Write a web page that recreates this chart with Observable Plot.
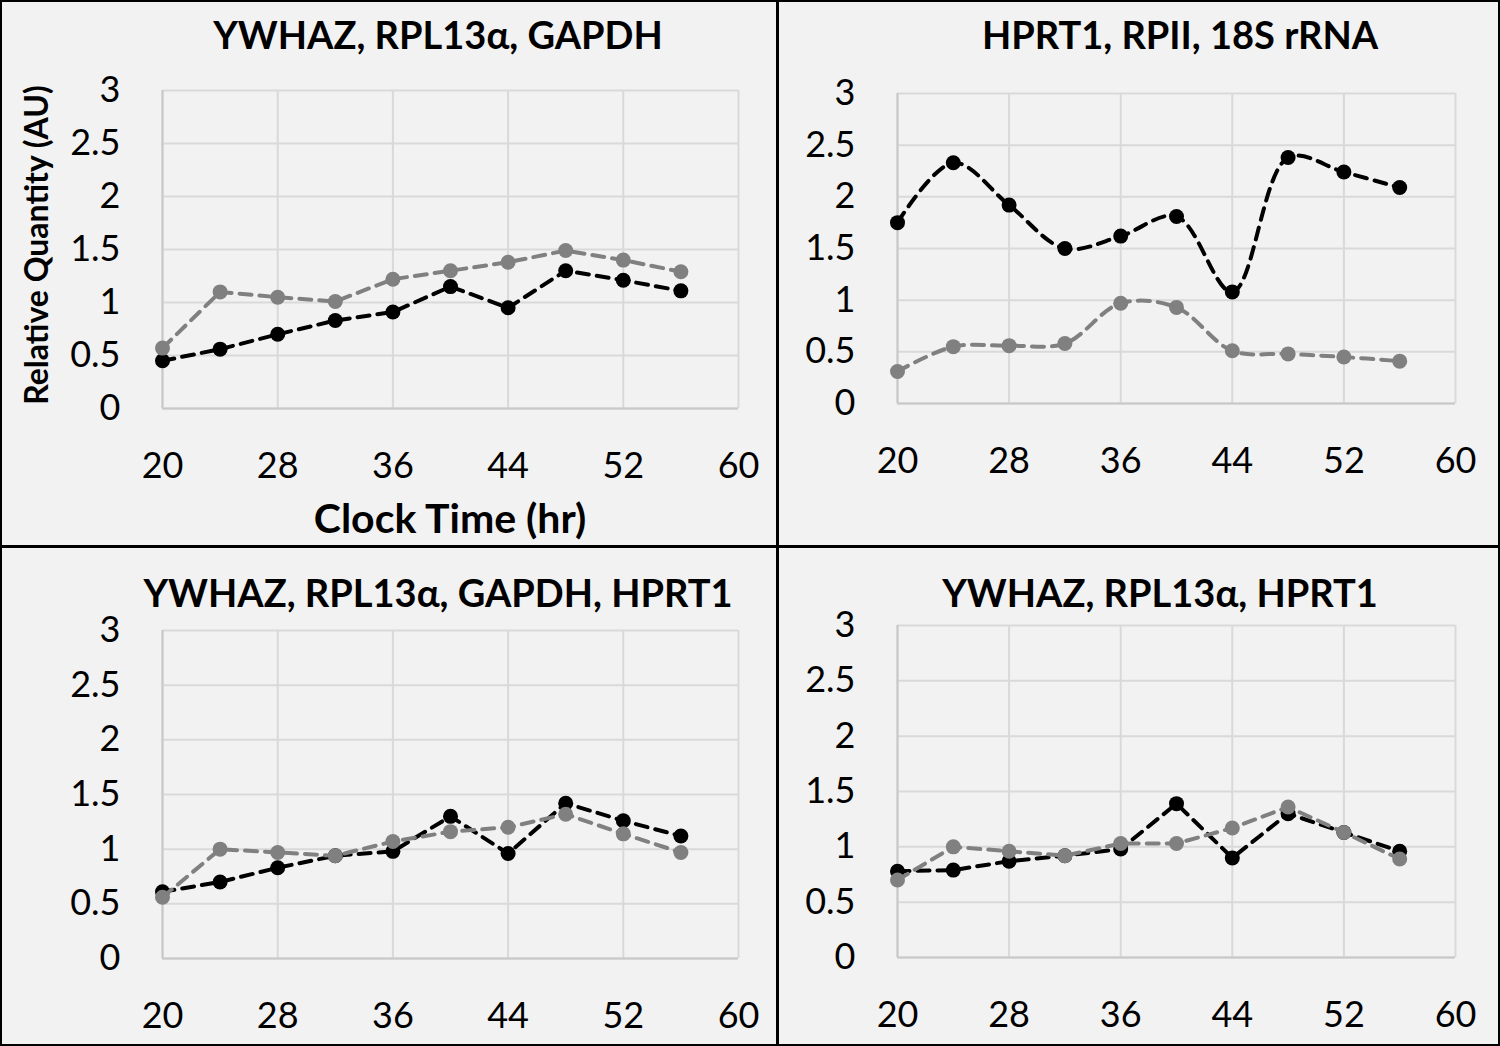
<!DOCTYPE html>
<html><head><meta charset="utf-8">
<script src="https://cdn.jsdelivr.net/npm/d3@7"></script>
<script src="https://cdn.jsdelivr.net/npm/@observablehq/plot@0.6"></script>
<style>
body{margin:0;background:#f2f2f2;}
#wrap{position:relative;width:1500px;height:1046px;background:#f2f2f2;font-family:Lato, sans-serif;overflow:hidden}
.border{position:absolute;left:0;top:0;right:0;bottom:0;border:2px solid #000;pointer-events:none}
.vline{position:absolute;left:776px;top:0;width:3px;height:1046px;background:#000}
.hline{position:absolute;top:545px;left:0;height:3px;width:1500px;background:#000}
.title{position:absolute;font-weight:bold;font-size:38px;transform:translate(-50%,-50%);white-space:nowrap;color:#000;line-height:1}
.plot{position:absolute}
.ylab{position:absolute;font-weight:bold;font-size:32px;white-space:nowrap;transform:translate(-50%,-50%) rotate(-90deg);line-height:1}
.xlab{position:absolute;font-weight:bold;font-size:41px;white-space:nowrap;transform:translate(-50%,-50%);line-height:1}
</style></head>
<body><div id="wrap"></div>
<script>
const hours = [20,24,28,32,36,40,44,48,52,56];
const xTicks = [20,28,36,44,52,60];
const yTicks = [0,0.5,1,1.5,2,2.5,3];
const titles = ["YWHAZ, RPL13\u03b1, GAPDH","HPRT1, RPII, 18S rRNA","YWHAZ, RPL13\u03b1, GAPDH, HPRT1","YWHAZ, RPL13\u03b1, HPRT1"];
const yLabel = "Relative Quantity (AU)";
const xLabel = "Clock Time (hr)";

const p1Black = [0.45,0.56,0.70,0.83,0.91,1.15,0.95,1.30,1.21,1.11];
const p1Gray  = [0.57,1.10,1.05,1.01,1.22,1.30,1.38,1.49,1.40,1.29];
const p2Black = [1.75,2.33,1.92,1.50,1.62,1.81,1.08,2.38,2.24,2.09];
const p2Gray  = [0.31,0.55,0.56,0.58,0.97,0.93,0.51,0.48,0.45,0.41];
const p3Black = [0.61,0.70,0.83,0.94,0.98,1.30,0.96,1.42,1.26,1.12];
const p3Gray  = [0.56,1.00,0.97,0.94,1.07,1.16,1.20,1.32,1.14,0.97];
const p4Black = [0.78,0.79,0.87,0.92,0.98,1.39,0.90,1.30,1.13,0.96];
const p4Gray  = [0.70,1.00,0.96,0.92,1.03,1.03,1.17,1.36,1.13,0.89];

const wrap = document.getElementById("wrap");

function panel(black, gray, curve, box, frame) {
  const [L,T,W,H] = box;
  const [fx0,fy0,fx1,fy1] = frame;
  const bd = hours.map((h,i)=>({h, v:black[i]}));
  const gd = hours.map((h,i)=>({h, v:gray[i]}));
  const chart = Plot.plot({
    width: W, height: H,
    marginLeft: fx0 - L, marginRight: L + W - fx1,
    marginTop: fy0 - T, marginBottom: T + H - fy1,
    style: {background: "transparent", fontFamily: "Lato, sans-serif", fontSize: "36px", color: "#000"},
    x: {domain: [20,60], ticks: xTicks, tickSize: 0, tickPadding: 44, label: null},
    y: {domain: [0,3], ticks: yTicks, tickSize: 0, tickPadding: 42, label: null},
    marks: [
      Plot.gridX(xTicks, {stroke: "#d9d9d9", strokeOpacity: 1, strokeWidth: 2}),
      Plot.gridY(yTicks, {stroke: "#d9d9d9", strokeOpacity: 1, strokeWidth: 2}),
      Plot.ruleX([20], {stroke: "#c8c8c8", strokeWidth: 2}),
      Plot.ruleY([0], {stroke: "#c8c8c8", strokeWidth: 2}),
      Plot.axisX(xTicks, {tickSize: 0, tickPadding: 44, label: null, tickFormat: d => String(d)}),
      Plot.axisY(yTicks, {tickSize: 0, tickPadding: 42, label: null, tickFormat: d => String(d)}),
      Plot.line(bd, {x:"h", y:"v", stroke:"#000", strokeWidth:4, strokeDasharray:"12,8", curve}),
      Plot.dot(bd, {x:"h", y:"v", fill:"#000", r:7.5}),
      Plot.line(gd, {x:"h", y:"v", stroke:"#808080", strokeWidth:4, strokeDasharray:"12,8", curve}),
      Plot.dot(gd, {x:"h", y:"v", fill:"#808080", r:7.5})
    ]
  });
  chart.classList.add("plot");
  chart.style.left = L + "px";
  chart.style.top = T + "px";
  wrap.appendChild(chart);
}

panel(p1Black, p1Gray, "linear", [0,40,776,480], [162,90,738,408]);
panel(p2Black, p2Gray, "catmull-rom", [779,40,719,480], [897,93,1455,403]);
panel(p3Black, p3Gray, "linear", [0,590,776,456], [162,630,738,958]);
panel(p4Black, p4Gray, "linear", [779,590,719,456], [897,625,1455,957]);

function addText(cls, txt, x, y) {
  const d = document.createElement("div");
  d.className = cls; d.textContent = txt;
  d.style.left = x + "px"; d.style.top = y + "px";
  wrap.appendChild(d);
}
addText("title", titles[0], 438, 34);
addText("title", titles[1], 1180, 34);
addText("title", titles[2], 438, 592);
addText("title", titles[3], 1160, 592);
addText("ylab", yLabel, 36, 245);
addText("xlab", xLabel, 450, 517);

["vline","hline","border"].forEach(c => { const d = document.createElement("div"); d.className = c; wrap.appendChild(d); });
</script>
</body></html>
